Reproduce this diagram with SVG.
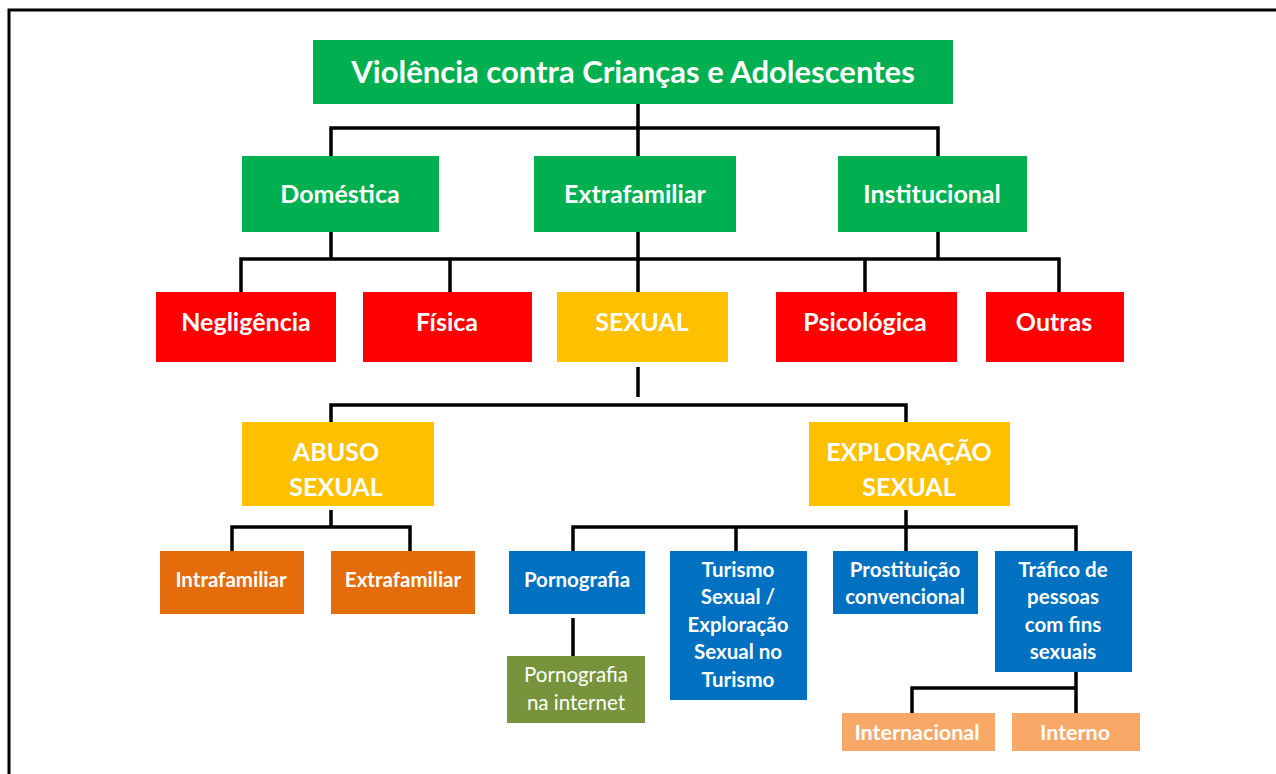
<svg xmlns="http://www.w3.org/2000/svg" width="1276" height="774" viewBox="0 0 1276 774">
<style>
.t{font-family:Lato,"Liberation Sans",sans-serif;font-weight:bold;fill:#fff;text-anchor:middle}
.l1{font-size:31px}
.l2{font-size:25px}
.l4{font-size:20.5px}
.l5{font-size:21.5px}
.c{fill:none;stroke:#000;stroke-width:3.5}
.g{fill:#00B050}.r{fill:#FF0000}.y{fill:#FFC000}.o{fill:#E46C0A}.b{fill:#0070C0}.v{fill:#77933C}.p{fill:#F7A866}
</style>
<rect width="1276" height="774" fill="#fff"/>
<path d="M9,774 V10 H1276" fill="none" stroke="#000" stroke-width="3"/>
<g id="connectors">
<path class="c" d="M638,104 V128 M331,156 V128 H938 V156 M638,128 V156"/>
<path class="c" d="M331,232 V259 M638,232 V292 M938,232 V259 M241,292 V259 H1059 V292 M450,259 V292 M865,259 V292"/>
<path class="c" d="M638,367 V397 M331,422 V405 H906 V422"/>
<path class="c" d="M331,510 V527 M232,551 V527 H410 V551"/>
<path class="c" d="M906,510 V551 M573,551 V527 H1076 V551 M736,527 V551"/>
<path class="c" d="M573,618 V656"/>
<path class="c" d="M1076,672 V713 M912,713 V688 H1076"/>
</g>
<g id="n-root"><rect class="g" x="313" y="40" width="640" height="64"/><text class="t l1" x="633" y="83">Violência contra Crianças e Adolescentes</text></g>
<g id="n-domestica"><rect class="g" x="242" y="156" width="197" height="76"/><text class="t l2" x="340" y="203">Doméstica</text></g>
<g id="n-extrafamiliar"><rect class="g" x="534" y="156" width="202" height="76"/><text class="t l2" x="635" y="203">Extrafamiliar</text></g>
<g id="n-institucional"><rect class="g" x="838" y="156" width="189" height="76"/><text class="t l2" x="932" y="203">Institucional</text></g>
<g id="n-negligencia"><rect class="r" x="156" y="292" width="180" height="70"/><text class="t l2" x="246" y="331">Negligência</text></g>
<g id="n-fisica"><rect class="r" x="363" y="292" width="169" height="70"/><text class="t l2" x="447" y="331">Física</text></g>
<g id="n-sexual"><rect class="y" x="557" y="292" width="171" height="70"/><text class="t l2" x="642" y="331">SEXUAL</text></g>
<g id="n-psicologica"><rect class="r" x="776" y="292" width="181" height="70"/><text class="t l2" x="865" y="331">Psicológica</text></g>
<g id="n-outras"><rect class="r" x="986" y="292" width="138" height="70"/><text class="t l2" x="1054" y="331">Outras</text></g>
<g id="n-abuso"><rect class="y" x="242" y="422" width="192" height="84"/><text class="t l2" x="336" y="461">ABUSO</text><text class="t l2" x="336" y="496">SEXUAL</text></g>
<g id="n-exploracao"><rect class="y" x="809" y="422" width="201" height="84"/><text class="t l2" x="909" y="461">EXPLORAÇÃO</text><text class="t l2" x="909" y="496">SEXUAL</text></g>
<g id="n-intrafamiliar"><rect class="o" x="160" y="551" width="144" height="63"/><text class="t l4" x="231" y="587">Intrafamiliar</text></g>
<g id="n-extrafamiliar2"><rect class="o" x="331" y="551" width="144" height="63"/><text class="t l4" x="403" y="587">Extrafamiliar</text></g>
<g id="n-pornografia"><rect class="b" x="509" y="551" width="136" height="63"/><text class="t l4" x="577" y="587">Pornografia</text></g>
<g id="n-turismo"><rect class="b" x="670" y="551" width="137" height="149"/><text class="t l4" x="738" y="577">Turismo</text><text class="t l4" x="738" y="604">Sexual /</text><text class="t l4" x="738" y="632">Exploração</text><text class="t l4" x="738" y="659">Sexual no</text><text class="t l4" x="738" y="687">Turismo</text></g>
<g id="n-prostituicao"><rect class="b" x="833" y="551" width="145" height="63"/><text class="t l4" x="905" y="577">Prostituição</text><text class="t l4" x="905" y="604">convencional</text></g>
<g id="n-trafico"><rect class="b" x="995" y="551" width="137" height="121"/><text class="t l4" x="1063" y="577">Tráfico de</text><text class="t l4" x="1063" y="604">pessoas</text><text class="t l4" x="1063" y="632">com fins</text><text class="t l4" x="1063" y="659">sexuais</text></g>
<g id="n-pornointernet"><rect class="v" x="507" y="656" width="138" height="67"/><text class="t l4" x="576" y="682" style="font-weight:normal">Pornografia</text><text class="t l4" x="576" y="710" style="font-weight:normal">na internet</text></g>
<g id="n-internacional"><rect class="p" x="842" y="713" width="153" height="38"/><text class="t l5" x="917" y="740">Internacional</text></g>
<g id="n-interno"><rect class="p" x="1012" y="713" width="128" height="38"/><text class="t l5" x="1075" y="740">Interno</text></g>
</svg>
